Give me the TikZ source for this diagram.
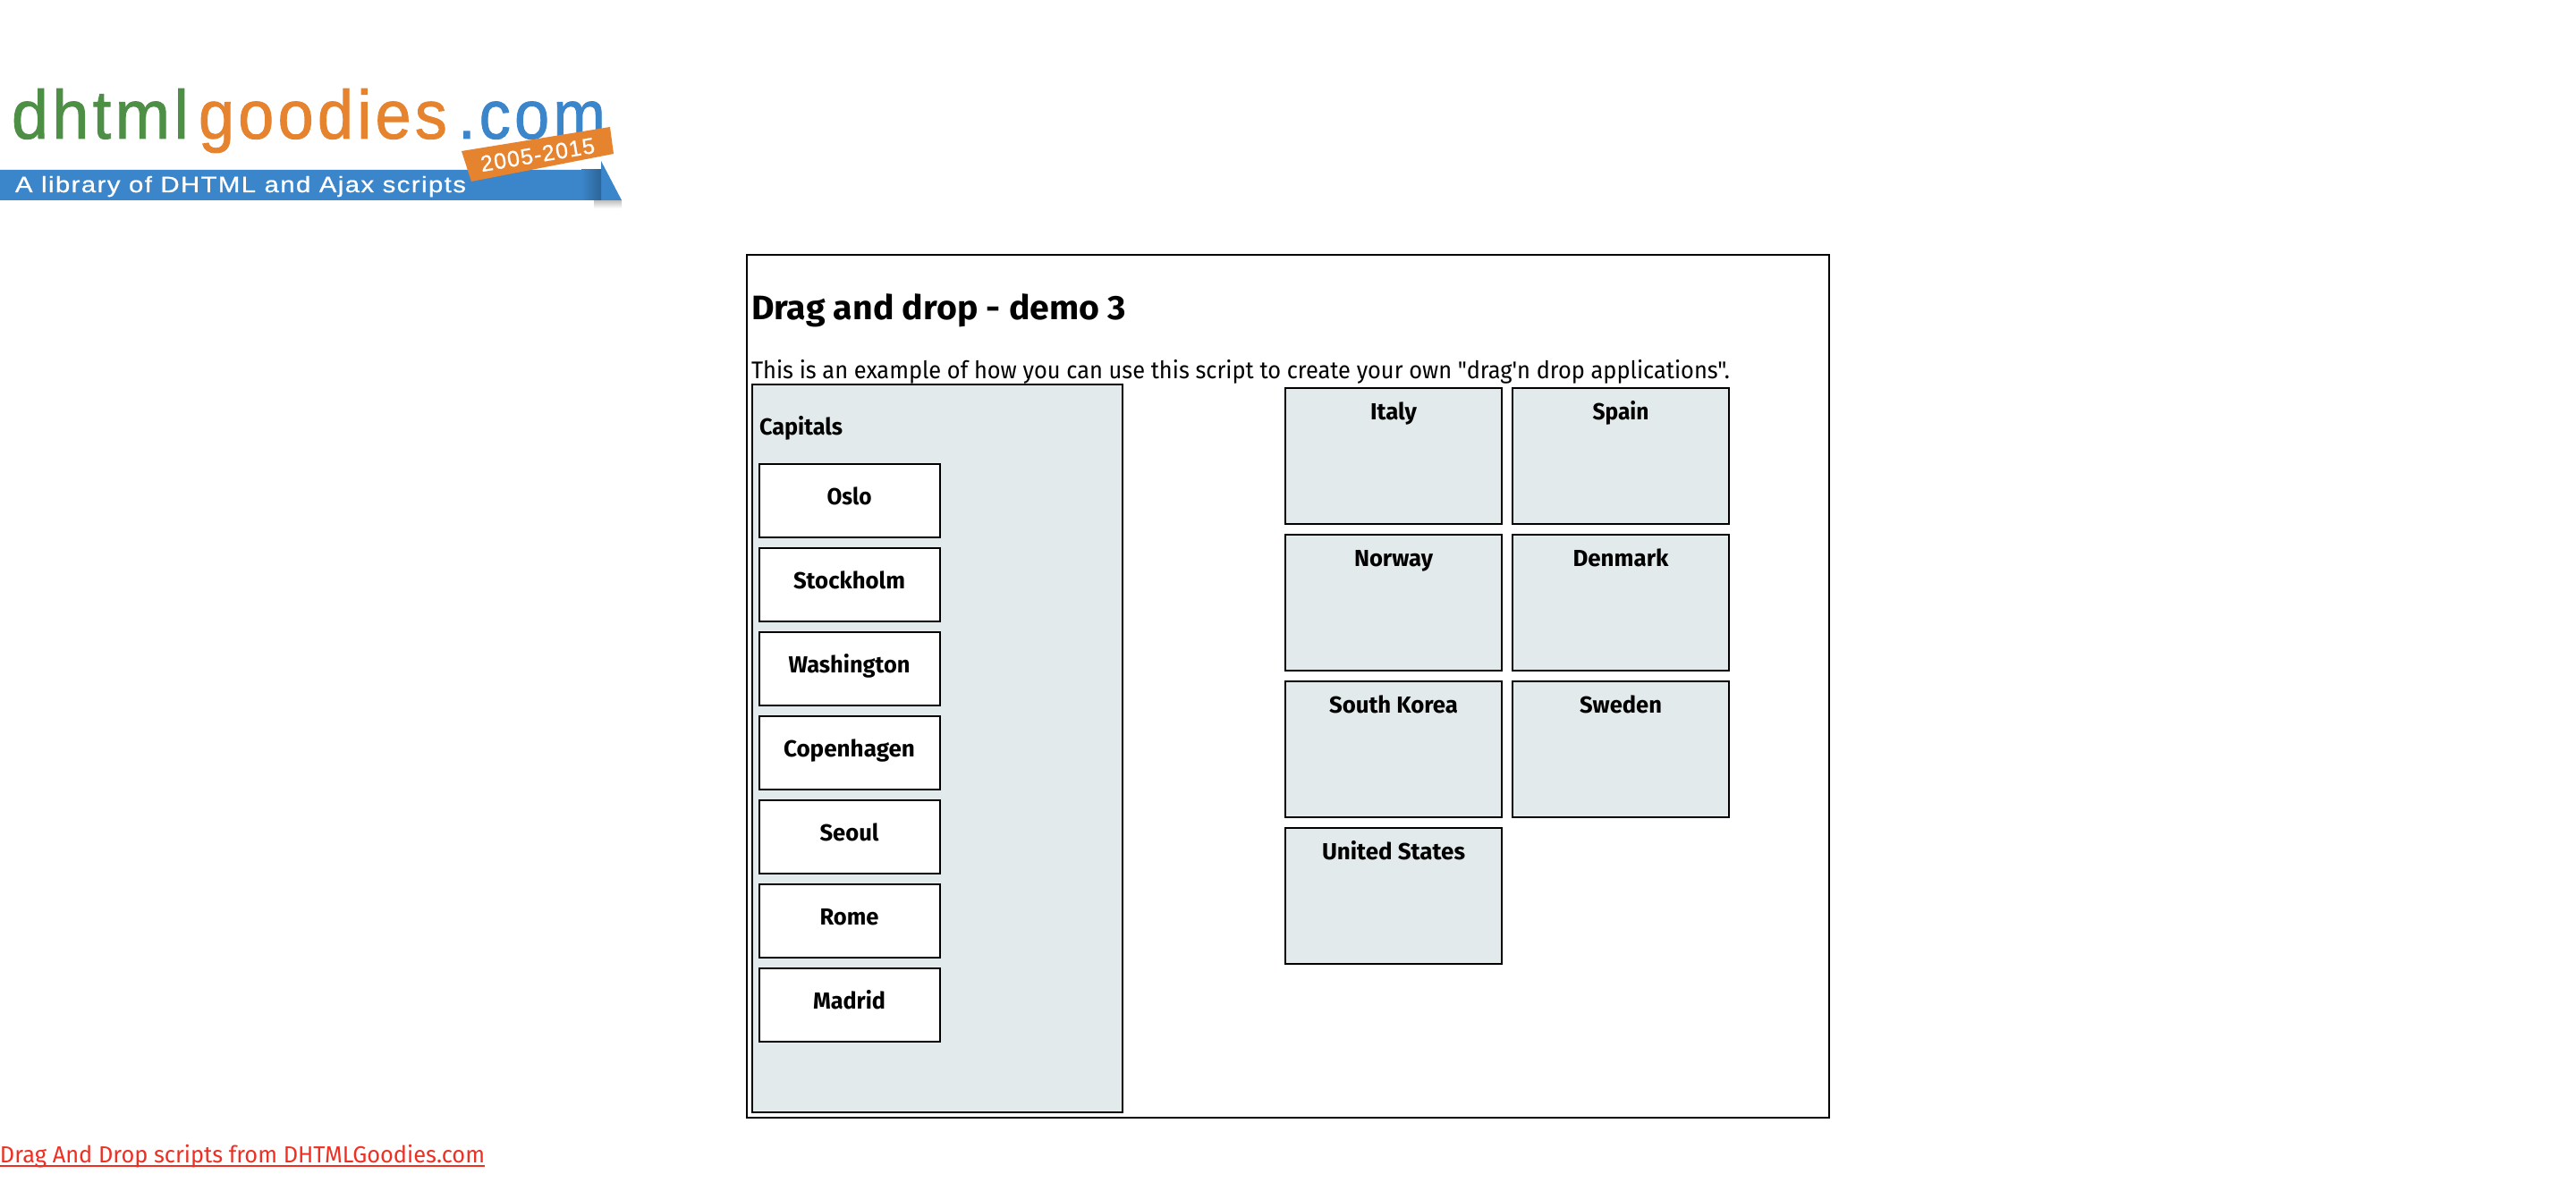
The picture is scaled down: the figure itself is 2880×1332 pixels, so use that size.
\documentclass[tikz,border=0pt]{standalone}
\usepackage{fontspec}
\usepackage{graphicx}
\setmainfont{Fira Sans}
\newfontfamily\bodyfont{Fira Sans}
\newfontfamily\logofont{Liberation Sans}[LetterSpace=6,FakeBold=1.2]
\newfontfamily\logosmall{Liberation Sans}[LetterSpace=5,FakeBold=0.8]
\definecolor{panel}{HTML}{E2EAEB}
\definecolor{lgreen}{HTML}{4E8F46}
\definecolor{lorange}{HTML}{E5832F}
\definecolor{lblue}{HTML}{3B86CB}
\definecolor{ldark}{HTML}{2C6496}
\definecolor{linkred}{HTML}{EE3024}
\newcommand{\tw}[2]{\resizebox{#1pt}{\height}{#2}}
\tikzset{
  x=1pt,y=-1pt,
  frame/.style={draw=black,line width=2pt,rectangle,inner sep=0pt,outer sep=0pt},
  panelbox/.style={frame,fill=panel},
  capbox/.style={frame,fill=white,minimum width=202pt,minimum height=82pt},
  landbox/.style={frame,fill=panel,minimum width=242pt,minimum height=152pt},
  txt/.style={inner sep=0pt,outer sep=0pt,anchor=base west,text=black},
  boldtxt/.style={txt,font=\fontsize{26}{30}\selectfont\bfseries},
  logotxt/.style={inner sep=0pt,outer sep=0pt,anchor=base west},
}
\begin{document}
\begin{tikzpicture}
\useasboundingbox (0,0) rectangle (2880,1332);
\fill[white] (0,0) rectangle (2880,1332);

% logo
\node[logotxt,text=lgreen,font=\fontsize{77}{80}\logofont] (l1) at (13,155) {\tw{198}{dhtml}};
\node[logotxt,text=lorange,font=\fontsize{77}{80}\logofont] (l2) at (222,155) {\tw{278}{goodies}};
\node[logotxt,text=lblue,font=\fontsize{77}{80}\logofont] (l3) at (512,155) {\tw{165}{.com}};
\shade[top color=black!25,bottom color=white] (664,224) rectangle (695,233);
\fill[lblue] (0,190) -- (672,190) -- (672,180) -- (695,224) -- (0,224) -- cycle;
\shade[left color=lblue,right color=ldark] (650,190) rectangle (672,224);
\fill[lorange] (516,169) -- (682,142) -- (686,172) -- (527,203) -- cycle;
\node[logotxt,text=white,font=\fontsize{25}{28}\logosmall] (l4) at (17,215) {\tw{504}{A library of DHTML and Ajax scripts}};
\node[inner sep=0pt,text=white,rotate=9.5,font=\fontsize{25}{28}\logosmall] (l5) at (601,173) {\tw{129}{2005-2015}};

% outer frame
\node[frame,minimum width=1210pt,minimum height=965pt] (outer) at (1440,767.5) {};
\node[boldtxt,font=\fontsize{38}{42}\selectfont\bfseries] (title) at (840,357) {\tw{419}{Drag and drop - demo 3}};
\node[txt,font=\fontsize{27}{30}\bodyfont] (intro) at (840,423) {\tw{1094}{This is an example of how you can use this script to create your own "drag'n drop applications".}};

% capitals
\node[panelbox,minimum width=414pt,minimum height=814pt] (capitals) at (1048,837) {};
\node[boldtxt] (captitle) at (849,486.5) {\tw{93}{Capitals}};
\foreach \n/\t/\w [count=\i from 0] in {oslo/Oslo/50,stockholm/Stockholm/125,washington/Washington/136,copenhagen/Copenhagen/147,seoul/Seoul/66,rome/Rome/66,madrid/Madrid/81}{
  \node[capbox] (\n) at (949.5,{560+94*\i}) {};
  \node[boldtxt,anchor=base] (\n t) at (949.5,{564+94*\i}) {\tw{\w}{\t}};
}

% countries
\foreach \n/\t/\w/\cx/\r in {italy/Italy/52/1558/0,spain/Spain/63/1812/0,norway/Norway/88/1558/1,denmark/Denmark/107/1812/1,korea/South Korea/144/1558/2,sweden/Sweden/92/1812/2,usa/United States/160/1558/3}{
  \node[landbox] (\n) at (\cx,{510+164*\r}) {};
  \node[boldtxt,anchor=base] (\n t) at (\cx,{469+164*\r}) {\tw{\w}{\t}};
}

% link
\node[txt,text=linkred,font=\fontsize{26}{30}\selectfont] (link) at (0,1300) {\tw{542}{Drag And Drop scripts from DHTMLGoodies.com}};
\coordinate (ula) at (0,1303.5);
\coordinate (ulb) at (542,1303.5);
\draw[linkred,line width=2pt] (ula) -- (ulb);
\end{tikzpicture}
\end{document}
